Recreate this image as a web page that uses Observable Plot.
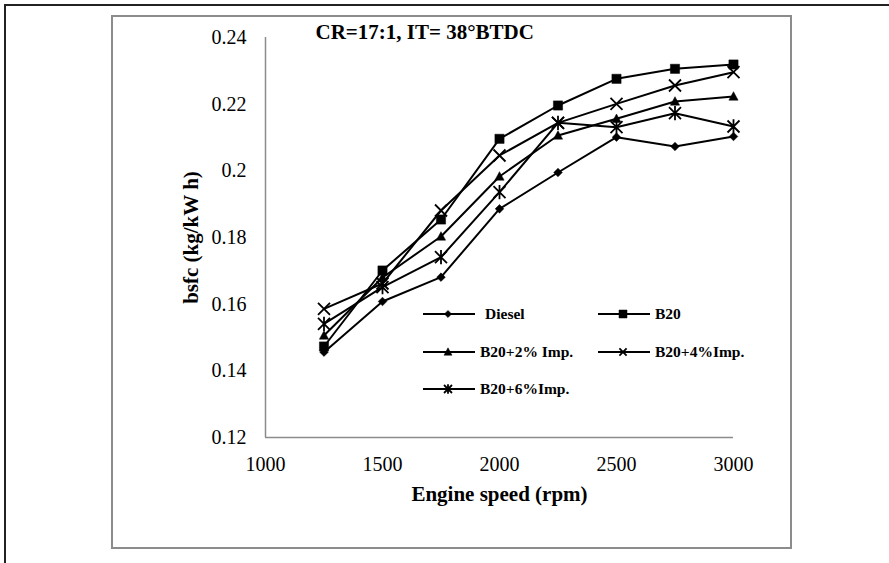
<!DOCTYPE html>
<html>
<head>
<meta charset="utf-8">
<script src="https://cdn.jsdelivr.net/npm/d3@7"></script>
<script src="https://cdn.jsdelivr.net/npm/@observablehq/plot@0.6"></script>
<style>
  html, body { margin: 0; padding: 0; background: #fff; overflow: hidden; }
  #wrap { position: relative; width: 889px; height: 563px; overflow: hidden; font-family: "Liberation Serif", "Times New Roman", serif; }
  #outer { position: absolute; left: 4px; top: 4px; width: 1000px; height: 1000px; border: 2px solid #222; box-sizing: border-box; }
  #inner { position: absolute; left: 111px; top: 15px; width: 681px; height: 534px; border: 2px solid #8c8c8c; box-sizing: border-box; }
  #chart, #legend { position: absolute; left: 0; top: 0; }
</style>
</head>
<body>
<div id="wrap">
  <div id="outer"></div>
  <div id="inner"></div>
  <div id="chart"></div>
  <svg id="legend" width="889" height="563"></svg>
</div>
<script>
// ---- data ----
const speeds = [1250, 1500, 1750, 2000, 2250, 2500, 2750, 3000];
const diesel = [0.1456, 0.1608, 0.1681, 0.1886, 0.1995, 0.2101, 0.2073, 0.2103];
const b20    = [0.1473, 0.1701, 0.1854, 0.2096, 0.2196, 0.2276, 0.2306, 0.2319];
const b20i2  = [0.1506, 0.1680, 0.1803, 0.1983, 0.2106, 0.2156, 0.2208, 0.2223];
const b20i4  = [0.1586, 0.1662, 0.1881, 0.2046, 0.2144, 0.2201, 0.2256, 0.2296];
const b20i6  = [0.1541, 0.1651, 0.1741, 0.1936, 0.2144, 0.2131, 0.2173, 0.2133];
const seriesNames = ["Diesel", "B20", "B20+2% Imp.", "B20+4%Imp.", "B20+6%Imp."];
const xTicks = [1000, 1500, 2000, 2500, 3000];
const yTicks = [0.12, 0.14, 0.16, 0.18, 0.20, 0.22, 0.24];
const yTickLabels = ["0.12", "0.14", "0.16", "0.18", "0.2", "0.22", "0.24"];
const titleText = "CR=17:1, IT= 38°BTDC";
const xTitle = "Engine speed (rpm)";
const yTitle = "bsfc (kg/kW h)";

// ---- symbols ----
const rad = s => Math.sqrt(s / Math.PI);
const symDiamond = {draw(c, s) { const r = rad(s); c.moveTo(0, -r); c.lineTo(r, 0); c.lineTo(0, r); c.lineTo(-r, 0); c.closePath(); }};
const symSquare = {draw(c, s) { const r = rad(s); c.rect(-r, -r, 2 * r, 2 * r); }};
const symTriangle = {draw(c, s) { const r = rad(s); c.moveTo(0, -r * 1.05); c.lineTo(r, r * 0.8); c.lineTo(-r, r * 0.8); c.closePath(); }};
const symTimes = {draw(c, s) { const r = rad(s); c.moveTo(-r, -r); c.lineTo(r, r); c.moveTo(r, -r); c.lineTo(-r, r); }};
const symStar = {draw(c, s) { const r = rad(s); c.moveTo(-r, -r); c.lineTo(r, r); c.moveTo(r, -r); c.lineTo(-r, r); c.moveTo(0, -r * 1.2); c.lineTo(0, r * 1.2); }};

const seriesValues = [diesel, b20, b20i2, b20i4, b20i6];
const seriesSym = [symDiamond, symSquare, symTriangle, symTimes, symStar];
const seriesFilled = [true, true, true, false, false];
const seriesR = [4.3, 4.6, 4.6, 6, 6];
const legendR = [3.6, 4, 4, 3.6, 4];

const rows = seriesNames.map((name, i) => speeds.map((s, j) => ({series: name, speed: s, v: seriesValues[i][j]})));

const marks = [
  Plot.ruleX([1000], {stroke: "#8c8c8c", strokeWidth: 1.5}),
  Plot.ruleY([0.12], {stroke: "#8c8c8c", strokeWidth: 1.5}),
  Plot.axisY({ticks: yTicks, tickSize: 0, tickPadding: 19, fontSize: 20, label: null,
    tickFormat: d => yTickLabels[yTicks.findIndex(t => Math.abs(t - d) < 1e-9)]}),
  Plot.axisX({ticks: xTicks, tickSize: 0, tickPadding: 19, fontSize: 20, label: null, tickFormat: d => String(d)}),
  Plot.text([xTitle], {frameAnchor: "bottom", textAnchor: "middle", lineAnchor: "middle", dy: 57, fontSize: 21, fontWeight: "bold", fill: "#000"}),
  Plot.text([yTitle], {frameAnchor: "left", textAnchor: "middle", lineAnchor: "middle", dx: -74, rotate: -90, fontSize: 21, fontWeight: "bold", fill: "#000"}),
  Plot.text([titleText], {frameAnchor: "top-left", textAnchor: "start", lineAnchor: "middle", dx: 50, dy: -5, fontSize: 21, fontWeight: "bold", fill: "#000"})
];
rows.forEach(d => marks.push(Plot.line(d, {x: "speed", y: "v", stroke: "#000", strokeWidth: 2})));
rows.forEach((d, i) => marks.push(Plot.dot(d, {
  x: "speed", y: "v", r: seriesR[i], symbol: seriesSym[i],
  fill: seriesFilled[i] ? "#000" : "none",
  stroke: "#000", strokeWidth: seriesFilled[i] ? 0.5 : 1.8
})));

const chart = Plot.plot({
  width: 889, height: 563,
  marginLeft: 265, marginRight: 156, marginTop: 37, marginBottom: 126,
  x: {domain: [1000, 3000]},
  y: {domain: [0.12, 0.24]},
  style: {background: "transparent", fontFamily: "'Liberation Serif', 'Times New Roman', serif", color: "#000"},
  marks
});
document.getElementById("chart").append(chart);

// ---- legend (inside plot area) ----
const legend = d3.select("#legend");
const legendPos = [
  {lx: 423, mx: 448, tx: 485, y: 314},
  {lx: 598, mx: 623, tx: 655, y: 314},
  {lx: 423, mx: 448, tx: 480, y: 352},
  {lx: 598, mx: 623, tx: 655, y: 352},
  {lx: 423, mx: 448, tx: 480, y: 389}
];
seriesNames.forEach((name, i) => {
  const p = legendPos[i];
  const g = legend.append("g");
  g.append("line").attr("x1", p.lx).attr("x2", p.lx + 52).attr("y1", p.y).attr("y2", p.y)
    .attr("stroke", "#000").attr("stroke-width", 2);
  g.append("path")
    .attr("transform", `translate(${p.mx},${p.y})`)
    .attr("d", d3.symbol(seriesSym[i], Math.PI * legendR[i] * legendR[i])())
    .attr("fill", seriesFilled[i] ? "#000" : "none")
    .attr("stroke", "#000").attr("stroke-width", seriesFilled[i] ? 0.5 : 1.8);
  g.append("text").attr("x", p.tx).attr("y", p.y + 5)
    .attr("font-family", "'Liberation Serif', 'Times New Roman', serif")
    .attr("font-size", 15.5).attr("font-weight", "bold").text(name);
});
</script>
</body>
</html>
